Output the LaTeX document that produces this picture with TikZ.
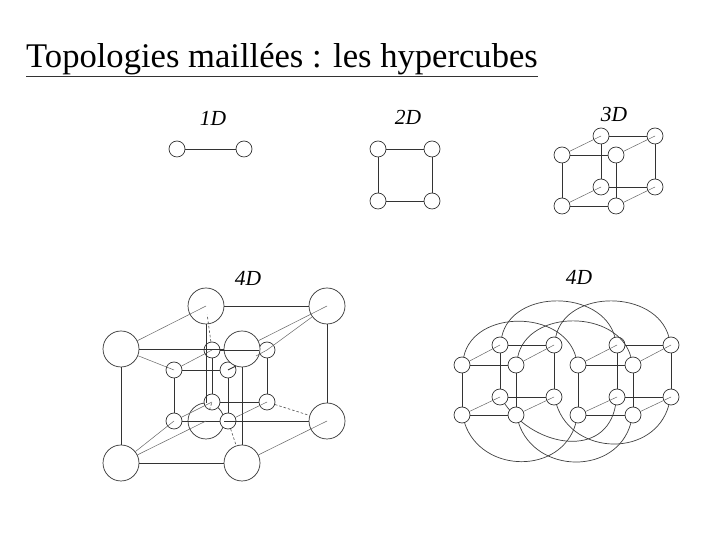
\documentclass[tikz,border=0pt]{standalone}
\usepackage{fontspec}
\setmainfont{Liberation Serif}
\usetikzlibrary{backgrounds}
\tikzset{
  v/.style={circle,draw=black!80,fill=white,minimum size=16pt,inner sep=0pt,line width=0.7pt},
  bigv/.style={circle,draw=black!80,fill=white,minimum size=36pt,inner sep=0pt,line width=0.7pt},
  ln/.style={draw=black!80,line width=0.9pt},
  dg/.style={draw=black!60,line width=0.5pt},
  dsh/.style={draw=black!70,line width=0.6pt,dash pattern=on 2.5pt off 2pt},
  arc/.style={draw=black!75,line width=0.7pt},
  lab/.style={font=\itshape\fontsize{21.5}{23}\selectfont,inner sep=0pt},
}
\begin{document}
\begin{tikzpicture}[x=1pt,y=1pt]
\useasboundingbox (0,0) rectangle (720,540);
\node[anchor=base west,inner sep=0pt,font=\fontsize{34.6}{36}\selectfont] (title) at (26,472) {Topologies maillées : les hypercubes};
\draw[line width=0.6pt,black!80] (26,464)--(538,464);
\node[lab] (t1) at (213,422){1D}; \node[lab] (t2) at (408,423){2D}; \node[lab] (t3) at (614,426){3D};
\node[lab] (t4) at (248,262){4D}; \node[lab] (t5) at (579,263){4D};
% 1D, 2D
\node[v] (l1) at (177,391){}; \node[v] (l2) at (244,391){};
\draw[ln] (l1)--(l2);
\node[v] (s1) at (378,391){}; \node[v] (s2) at (432,391){}; \node[v] (s3) at (378,339){}; \node[v] (s4) at (432,339){};
\draw[ln] (s1)--(s2); \draw[ln] (s1)--(s3); \draw[ln] (s2)--(s4); \draw[ln] (s3)--(s4);
% 3D
\foreach \n/\x/\y in {1/562/385,2/616/385,3/562/334,4/616/334,5/601/404,6/655/404,7/601/353,8/655/353}
  \node[v] (c\n) at (\x,\y){};
\foreach \i/\j in {1/2,1/3,2/4,3/4,5/6,5/7,6/8,7/8} \draw[ln] (c\i)--(c\j);
\foreach \i/\j in {1/5,2/6,3/7,4/8} \draw[dg] (c\i)--(c\j.center);
% 4D, cube in a cube
\node[bigv] (a7) at (206,119){};
\foreach \n/\x/\y in {1/174/170,2/228/170,3/174/119,4/228/119,5/212/190,6/267/190,7/212/138,8/267/138}
  \node[v] (b\n) at (\x,\y){};
\foreach \n/\x/\y in {1/121/191,2/242/191,3/121/77,4/242/77,5/206/234,6/327/234,8/327/119}
  \node[bigv] (a\n) at (\x,\y){};
\foreach \i/\j in {1/2,1/3,2/4,3/4,5/6,5/7,6/8,7/8} \draw[ln] (a\i)--(a\j);
\foreach \i/\j in {1/2,1/3,2/4,3/4,5/6,5/7,6/8,7/8} \draw[ln] (b\i)--(b\j);
\foreach \i/\j in {1/5,2/6,3/7,4/8} \draw[dg] (a\i)--(a\j.center);
\foreach \i/\j in {1/5,3/7,4/8} \draw[dg] (b\i)--(b\j.center);
\draw[dg] (a1)--(b1.center); \draw[dg] (a3)--(b3.center); \draw[dg] (a6)--(b6.center);
\coordinate (tick1) at (236,174); \coordinate (tick2) at (256,184);
\draw[ln] (b2.center)--(tick1); \draw[dg] (tick2)--(b6.center);
\draw[dsh,shorten >=9pt] (b5)--(a5.center); \draw[dsh] (b8)--(a8); \draw[dsh] (b4)--(a4); \draw[dsh] (b7)--(a7);
% 4D, two cubes
\foreach \n/\x/\y in {1/462/175,2/516/175,3/462/125,4/516/125,5/500/195,6/554/195,7/500/143,8/554/143}
  \node[v] (p\n) at (\x,\y){};
\foreach \n/\x/\y in {1/578/175,2/633/175,3/578/125,4/633/125,5/617/195,6/671/195,7/617/143,8/671/143}
  \node[v] (q\n) at (\x,\y){};
\foreach \i/\j in {1/2,1/3,2/4,3/4,5/6,5/7,6/8,7/8} {\draw[ln] (p\i)--(p\j); \draw[ln] (q\i)--(q\j);}
\foreach \i/\j in {1/5,2/6,3/7,4/8} {\draw[dg] (p\i)--(p\j.center); \draw[dg] (q\i)--(q\j.center);}
\foreach \i in {1,2,5,6} \draw[arc] (p\i) to[out=78,in=105,looseness=1.12] (q\i);
\foreach \i in {3,4,8} \draw[arc] (p\i) to[out=-72,in=-105,looseness=1.24] (q\i);
\begin{scope}[on background layer]
\draw[arc] (p7) to[out=-55,in=-100,looseness=1.25] (q7);
\end{scope}
\end{tikzpicture}
\end{document}
